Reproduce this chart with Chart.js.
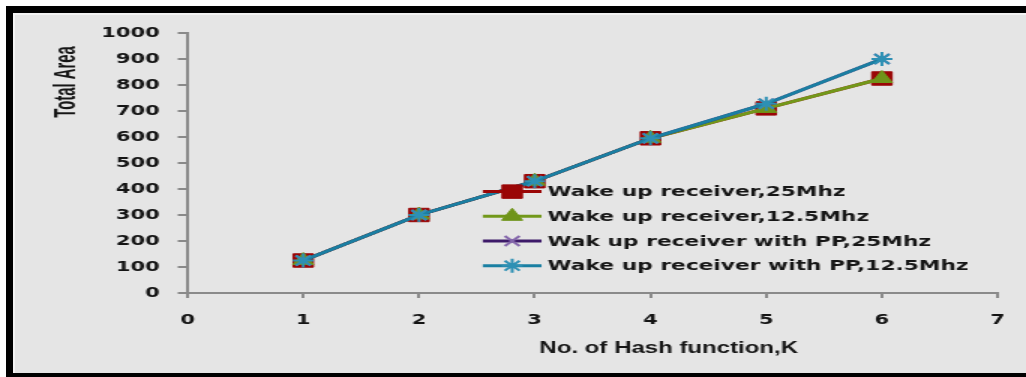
<!DOCTYPE html>
<html>
<head>
<meta charset="utf-8">
<title>Total Area vs. No. of Hash function</title>
<script src="https://cdn.jsdelivr.net/npm/chart.js@4.4.1/dist/chart.umd.min.js"></script>
<style>
  html, body { margin: 0; padding: 0; background: #ffffff; overflow: hidden; }
  body { width: 1026px; height: 377px; position: relative; }
  #frame {
    position: absolute; left: 6px; top: 6px; width: 1020px; height: 371px;
    box-sizing: border-box;
    border-top: 7px solid #000; border-left: 7px solid #000; border-bottom: 4px solid #000;
    background: #e5e5e5;
    box-shadow: inset 2px 2px 0 #f4f4f4;
  }
  #chart { position: absolute; left: 0; top: 0; }
</style>
</head>
<body>
<div id="frame"></div>
<!-- drawn narrow and widened, like the original wide-format figure -->
<canvas id="chart" width="684" height="377" style="width:1026px;height:377px"></canvas>
<script>
// Number of hash functions K
const hashCounts = [1, 2, 3, 4, 5, 6];

// Total area for each receiver variant
const wake25 = [125, 300, 430, 595, 710, 825];
const wake125 = [125, 300, 430, 595, 710, 825];
const wakePP25 = [125, 300, 430, 595, 728, 900];
const wakePP125 = [125, 300, 430, 595, 728, 900];

const seriesLabels = [
  'Wake up receiver,25Mhz',
  'Wake up receiver,12.5Mhz',
  'Wak up receiver with PP,25Mhz',
  'Wake up receiver with PP,12.5Mhz'
];

const xTitle = 'No. of Hash function,K';
const yTitle = 'Total Area';

const xRange = [0, 7];
const yRange = [0, 1000];
const yStep = 100;

const toPoints = (vals) => hashCounts.map((k, i) => ({ x: k, y: vals[i] }));

const tickFont = { family: 'DejaVu Sans', weight: 'bold', size: 14 };
const axisGrey = '#8a8a8a';

// Legend drawn inside the plot, each entry as line + marker
const innerLegend = {
  id: 'innerLegend',
  afterDraw(chart) {
    const { ctx, chartArea: a } = chart;
    const w = a.right - a.left, h = a.bottom - a.top;
    const x0 = a.left + 0.3645 * w;
    const x1 = a.left + 0.437 * w;
    const xm = (x0 + x1) / 2;
    const y0 = a.top + 0.61 * h;
    const dy = 24.7;
    ctx.save();
    chart.data.datasets.forEach((ds, i) => {
      const y = y0 + i * dy;
      ctx.strokeStyle = ds.borderColor;
      ctx.lineWidth = 3;
      ctx.beginPath();
      ctx.moveTo(x0, y);
      ctx.lineTo(x1, y);
      ctx.stroke();
      ctx.fillStyle = ds.pointBackgroundColor;
      ctx.strokeStyle = ds.pointBorderColor;
      ctx.lineWidth = ds.pointBorderWidth;
      Chart.helpers.drawPoint(ctx, {
        pointStyle: ds.pointStyle, rotation: 0,
        radius: ds.pointRadius, borderWidth: ds.pointBorderWidth
      }, xm, y);
      ctx.fillStyle = '#161616';
      ctx.font = 'bold 14.5px "DejaVu Sans"';
      ctx.textAlign = 'left';
      ctx.textBaseline = 'middle';
      ctx.fillText(ds.label, x1 + 4, y + 1);
    });
    ctx.restore();
  }
};

// Axis titles; the vertical one is set in a condensed face
const axisTitles = {
  id: 'axisTitles',
  afterDraw(chart) {
    const { ctx, chartArea: a } = chart;
    const w = a.right - a.left;
    ctx.save();
    ctx.fillStyle = '#161616';
    ctx.textAlign = 'center';
    ctx.textBaseline = 'middle';
    ctx.font = 'bold 16px "Liberation Sans"';
    ctx.fillText(xTitle, a.left + 0.594 * w, a.bottom + 56);
    ctx.translate(a.left - 81, a.top + 49);
    ctx.rotate(-Math.PI / 2);
    ctx.scale(0.74, 1);
    ctx.font = 'bold 20px "Liberation Sans"';
    ctx.fillText(yTitle, 0, 0);
    ctx.restore();
  }
};

const series = [
  { data: wake25, line: '#9a0606', fill: '#9a0606', edge: '#9a0606', style: 'rect', r: 9.5, bw: 1, order: 4 },
  { data: wake125, line: '#72981a', fill: '#6f9419', edge: '#6f9419', style: 'triangle', r: 8, bw: 1, order: 3 },
  { data: wakePP25, line: '#3d1a69', fill: 'rgba(0,0,0,0)', edge: '#8466ab', style: 'crossRot', r: 7, bw: 2, order: 2 },
  { data: wakePP125, line: '#1a7fa2', fill: 'rgba(0,0,0,0)', edge: '#2d90b4', style: 'star', r: 7, bw: 2, order: 1 }
];

new Chart(document.getElementById('chart'), {
  type: 'line',
  data: {
    datasets: series.map((s, i) => ({
      label: seriesLabels[i],
      data: toPoints(s.data),
      borderColor: s.line,
      borderWidth: 3,
      tension: 0,
      pointStyle: s.style,
      pointRadius: s.r,
      pointBackgroundColor: s.fill,
      pointBorderColor: s.edge,
      pointBorderWidth: s.bw,
      order: s.order
    }))
  },
  options: {
    responsive: false,
    animation: false,
    devicePixelRatio: 1,
    layout: { padding: { left: 0, top: 33, right: 18, bottom: 0 } },
    plugins: { legend: { display: false }, tooltip: { enabled: false } },
    scales: {
      x: {
        type: 'linear',
        min: xRange[0], max: xRange[1],
        ticks: { stepSize: 1, font: tickFont, color: '#141414', padding: 14 },
        grid: { drawOnChartArea: false, drawTicks: true, tickLength: 5, color: axisGrey, lineWidth: 2 },
        border: { color: axisGrey, width: 2 },
        afterFit(scale) { scale.height = 84; }
      },
      y: {
        min: yRange[0], max: yRange[1],
        ticks: { stepSize: yStep, font: tickFont, color: '#141414', padding: 12, callback: (v) => String(v) },
        grid: { drawOnChartArea: false, drawTicks: true, tickLength: 6.5, color: axisGrey, lineWidth: 2 },
        border: { color: axisGrey, width: 2 },
        afterFit(scale) { scale.width = 125; }
      }
    }
  },
  plugins: [innerLegend, axisTitles]
});
</script>
</body>
</html>
